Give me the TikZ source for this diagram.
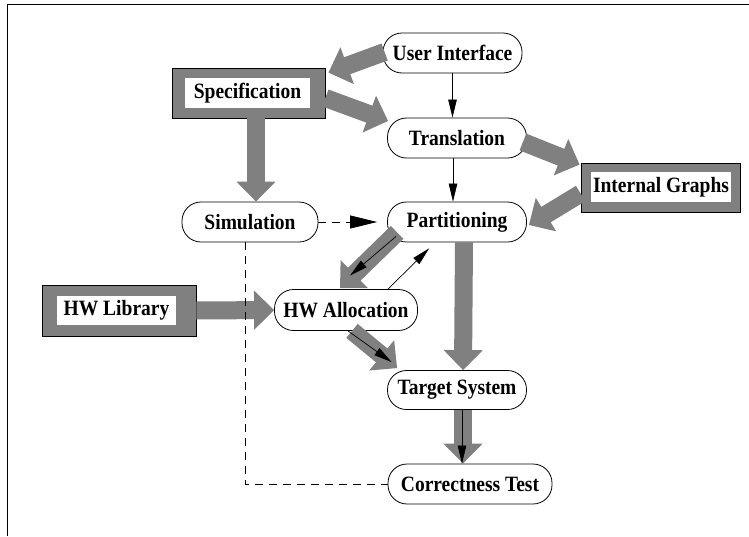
\documentclass[tikz,border=0pt]{standalone}
\usepackage{fontspec}
\usepackage{graphicx}
\setmainfont{Liberation Serif}
\usetikzlibrary{arrows.meta}
\definecolor{band}{RGB}{128,128,128}
% labels are set slightly taller than wide
\newcommand{\tallbf}[1]{\scalebox{1}[1.12]{#1}}
\begin{document}
\begin{tikzpicture}[x=1pt,y=-1pt,
  lbl/.style={font=\fontsize{19.5}{22}\selectfont\bfseries},
  proc/.style={lbl,draw=black,line width=0.8pt,fill=white,rounded corners=19pt,
    minimum height=40pt,inner sep=0pt},
  store/.style={draw=black,line width=0.8pt,fill=band,inner sep=0pt},
  storetext/.style={lbl,fill=white,inner sep=0pt},
  flow/.style={draw=band,line width=18pt,-{Triangle[width=38pt,length=20pt]}},
  ctrl/.style={draw=black,line width=0.7pt,-{Triangle[width=8.5pt,length=18pt]}},
  sim/.style={draw=black,line width=0.8pt,dash pattern=on 8pt off 6pt}]
\useasboundingbox (0,0) rectangle (749,536);
% outer frame
\draw[line width=1pt] (7.5,536) -- (7.5,4) -- (749,4);

% process nodes
\node[proc,minimum width=139pt,minimum height=40pt] (ui) at (452.5,53) {\tallbf{User Interface}};
\node[proc,minimum width=139pt] (tr) at (457,138) {\tallbf{Translation}};
\node[proc,minimum width=139pt] (pa) at (457,222) {\tallbf{Partitioning}};
\node[proc,minimum width=136pt] (si) at (250,222) {\tallbf{Simulation}};
\node[proc,minimum width=143pt,minimum height=41pt] (hwa) at (346,310) {\tallbf{HW Allocation}};
\node[proc,minimum width=139pt,minimum height=39pt] (ts) at (457,390) {\tallbf{Target System}};
\node[proc,minimum width=164pt] (ct) at (470,484) {\tallbf{Correctness Test}};

% data stores
\node[store,minimum width=153pt,minimum height=50pt] (specbox) at (248.5,93) {};
\node[storetext,minimum width=125pt,minimum height=30pt] (spec) at (247.5,93) {\tallbf{Specification}};
\node[store,minimum width=159pt,minimum height=49pt] (igbox) at (660.5,187.5) {};
\node[storetext,minimum width=140pt,minimum height=30pt] (ig) at (661,187) {\tallbf{Internal Graphs}};
\node[store,minimum width=154pt,minimum height=51pt] (hwlbox) at (119,310.5) {};
\node[storetext,minimum width=119pt,minimum height=29pt] (hwl) at (116.5,310.5) {\tallbf{HW Library}};

% data flows
\draw[flow] ([shift={(2,-1)}]ui.west) -- ([shift={(3,5)}]specbox.north east);
\draw[flow] ([shift={(0,5)}]specbox.east) -- ([shift={(1,-17)}]tr.west);
\draw[flow] ([xshift=7.5]specbox.south) -- ([xshift=6]si.north);
\draw[flow] ([shift={(-4,4)}]tr.east) -- ([shift={(-1,2)}]igbox.north west);
\draw[flow] ([shift={(0,6)}]igbox.west) -- ([shift={(2,3)}]pa.east);
\draw[flow] ([shift={(10,-10)}]pa.south west) -- ([shift={(-6,-1)}]hwa.north);
\draw[flow] (hwlbox.east) -- (hwa.west);
\draw[flow] ([xshift=6]hwa.south) -- ([shift={(10,-2)}]ts.north west);
\draw[flow] ([xshift=7]pa.south) -- ([xshift=6]ts.north);
\draw[flow] ([xshift=6]ts.south) -- ([xshift=-7]ct.north);

% control flows
\draw[ctrl] (ui.south) -- (ui.south |- tr.north);
\draw[ctrl] ([xshift=-4]tr.south) -- ([xshift=-4]pa.north);
\draw[ctrl] ([shift={(9,-6)}]pa.south west) -- ([shift={(4,-13.5)}]hwa.north);
\draw[ctrl] ([xshift=42]hwa.north) -- ([shift={(42,6)}]pa.south west);
\draw[ctrl] ([xshift=2]hwa.south) -- ([shift={(4.5,-8)}]ts.north west);
\draw[ctrl] ([xshift=5]ts.south) -- ([xshift=-8]ct.north);

% simulation links
\draw[sim,-{Triangle[width=13pt,length=27pt]}] (si.east) -- ([xshift=-10]pa.west);
\draw[sim] ([xshift=-5]si.south) |- (ct.west);
\end{tikzpicture}
\end{document}
